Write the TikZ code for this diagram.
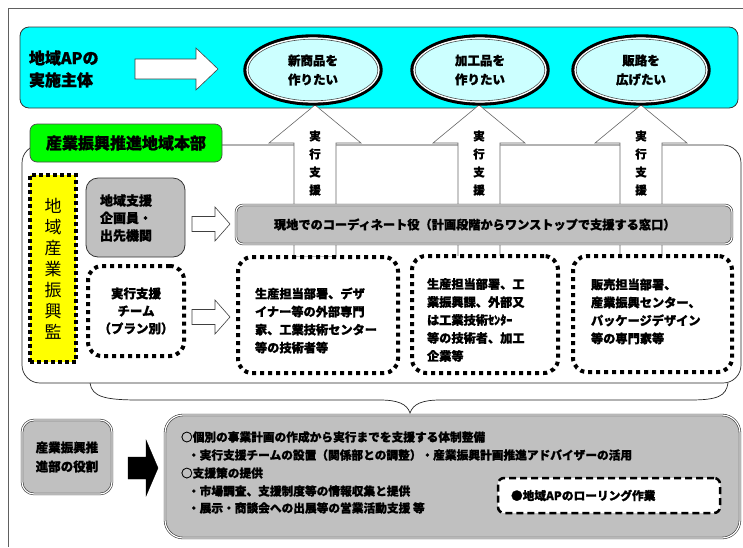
\documentclass[tikz,border=0pt]{standalone}
\usepackage{fontspec}
\setmainfont{Noto Sans CJK JP}[BoldFeatures={FakeBold=1.2}]
\usetikzlibrary{shapes.geometric,calc}
\definecolor{cyanbg}{HTML}{00FFFF}
\definecolor{lcyan}{HTML}{CCFFFF}
\definecolor{gbox}{HTML}{00FF00}
\definecolor{ybox}{HTML}{FFFF00}
\definecolor{grayf}{HTML}{C0C0C0}
\definecolor{framec}{HTML}{606060}
\newcommand{\jfs}[2]{\fontsize{#1}{#2}\selectfont}
\begin{document}
\begin{tikzpicture}[x=1pt,y=-1pt,
  every node/.style={inner sep=0pt, outer sep=0pt},
  cyanbox/.style={draw=black!80, line width=0.8pt, fill=cyanbg, rounded corners=9pt},
  ellout/.style={ellipse, draw=black, line width=3.4pt, fill=lcyan, minimum width=136pt, minimum height=68pt,
     font=\bfseries\jfs{12.5}{19}, align=center},
  ellwhite/.style={ellipse, draw=white, line width=1.6pt, minimum width=131.6pt, minimum height=63.6pt},
  ellin/.style={ellipse, draw=black!70, line width=0.6pt, minimum width=129.6pt, minimum height=61.6pt},
  blockarrow/.style={draw=black!75, line width=0.6pt, fill=white},
  uparrow/.style={draw=black!60, line width=0.6pt, fill=white},
  greenbox/.style={draw=black!70, line width=0.7pt, fill=gbox, rounded corners=7pt},
  regionframe/.style={draw=black!85, line width=0.7pt, rounded corners=18pt},
  graybox/.style={draw=black!80, line width=0.8pt, fill=grayf, rounded corners=12pt},
  dblgray/.style={draw=black!80, line width=0.6pt, double=white, double distance=1.2pt, fill=grayf},
  dotbox/.style={draw=black, line width=4pt, dash pattern=on 4pt off 4pt, fill=white, rounded corners=14pt},
  yelbox/.style={draw=black, line width=3.6pt, dash pattern=on 3.6pt off 3.4pt, fill=ybox},
  dashbox/.style={draw=black, line width=2.5pt, dash pattern=on 7pt off 4pt, fill=white, rounded corners=6pt},
  bt/.style={font=\bfseries\jfs{12.2}{18}, align=left},
  ct/.style={font=\bfseries\jfs{12.5}{17.5}, align=center},
  vt/.style={font=\bfseries\jfs{11.5}{18}, align=center},
  st/.style={font=\bfseries\jfs{11.7}{18}, align=left}
]
\useasboundingbox (0,0) rectangle (743,547);
% outer frame
\draw[framec, line width=0.8pt] (8,547) -- (8,8) -- (743,8);
% top cyan band
\node[cyanbox, minimum width=718pt, minimum height=81pt] (top) at (379,67.5) {};
\node[anchor=west, font=\bfseries\jfs{16}{22}, align=left] (apt) at (29,69) {地域APの\\実施主体};
\coordinate (wa1) at (135,69);
\coordinate (wa2) at (218,69);
\draw[blockarrow] ($(wa1)+(0,-10)$) -- ($(wa2)+(-22,-10)$) -- ($(wa2)+(-22,-21)$) -- (wa2)
  -- ($(wa2)+(-22,21)$) -- ($(wa2)+(-22,10)$) -- ($(wa1)+(0,10)$) -- cycle;
% region frame
\node[regionframe, minimum width=719pt, minimum height=238pt] (region) at (381.5,264) {};
\node[greenbox, minimum width=192pt, minimum height=38pt, font=\bfseries\jfs{16}{20}] (hq) at (126,143) {産業振興推進地域本部};
% up arrows
\foreach \cx/\n in {315/a,479/b,641/c}{
  \draw[uparrow] (\cx,105) -- (\cx+46,143) -- (\cx+21,143) -- (\cx+21,257) -- (\cx-21,257) -- (\cx-21,143) -- (\cx-46,143) -- cycle;
  \node[vt] (up\n) at (\cx,163) {実\\行\\支\\援};
}
% ellipses
\node[ellout] (e1) at (313,70) {新商品を\\作りたい};
\node[ellout] (e2) at (480,70) {加工品を\\作りたい};
\node[ellout] (e3) at (641,70) {販路を\\広げたい};
\foreach \e in {e1,e2,e3}{
  \node[ellwhite] at (\e) {};
  \node[ellin] at (\e) {};
}
% coordinator bar
\node[dblgray, rounded corners=7pt, minimum width=496pt, minimum height=39pt] (bar) at (484,224.5) {};
\node[bt, anchor=west] (bartxt) at (274,224.5) {現地でのコーディネート役（計画段階からワンストップで支援する窓口）};
% yellow box
\node[yelbox, minimum width=46pt, minimum height=187pt, font=\jfs{17}{21}, align=center] (kan) at (53,268.5) {地\\域\\産\\業\\振\\興\\監};
% left boxes
\node[graybox, minimum width=99pt, minimum height=79pt] (kikaku) at (135.5,217.5) {};
\node[anchor=west, font=\bfseries\jfs{13}{17.5}, align=left] (kikakut) at (100,218) {地域支援\\企画員・\\出先機関};
\node[dotbox, minimum width=96pt, minimum height=90pt, ct] (team) at (136,311) {実行支援\\チーム\\（プラン別）};
% small arrows
\foreach \yy/\n in {224/p,317/q}{
  \coordinate (s\n1) at (192,\yy);
  \coordinate (s\n2) at (230,\yy);
  \draw[blockarrow] ($(s\n1)+(0,-7.5)$) -- ($(s\n2)+(-15,-7.5)$) -- ($(s\n2)+(-15,-17)$) -- (s\n2)
    -- ($(s\n2)+(-15,17)$) -- ($(s\n2)+(-15,7.5)$) -- ($(s\n1)+(0,7.5)$) -- cycle;
}
% lower dotted boxes
\node[dotbox, minimum width=160pt, minimum height=116pt] (d1) at (318,315) {};
\node[dotbox, minimum width=146pt, minimum height=117pt] (d2) at (485,314.5) {};
\node[dotbox, minimum width=159pt, minimum height=116pt] (d3) at (652.5,314) {};
\node[bt, anchor=west] (d1t) at (255,320.5) {生産担当部署、デザ\\イナー等の外部専門\\家、工業技術センター\\等の技術者等};
\node[bt, anchor=west] (d2t) at (427,320) {生産担当部署、工\\業振興課、外部又\\は工業技術ｾﾝﾀｰ\\等の技術者、加工\\企業等};
\node[bt, anchor=west] (d3t) at (591,311.5) {販売担当部署、\\産業振興センター、\\パッケージデザイン\\等の専門家等};
% brace
\coordinate (bl) at (90,383);
\coordinate (br) at (728,383);
\coordinate (bt) at (410,413);
\draw[black!85, line width=0.7pt] (bl) .. controls (92,397) and (105,400) .. (140,400) -- (380,400)
  .. controls (398,400) and (407,404) .. (bt) .. controls (413,404) and (422,400) .. (440,400) -- (690,400)
  .. controls (718,400) and (726,396) .. (br);
% bottom section
\node[dblgray, rounded corners=12pt, minimum width=90pt, minimum height=74pt, font=\bfseries\jfs{12.5}{19}, align=center] (role) at (67,457) {産業振興推\\進部の役割};
\coordinate (ba1) at (128,468);
\coordinate (ba2) at (158,468);
\draw[fill=black, draw=black] ($(ba1)+(0,-11)$) -- ($(ba2)+(-12,-11)$) -- ($(ba2)+(-12,-28)$) -- (ba2)
  -- ($(ba2)+(-12,28)$) -- ($(ba2)+(-12,11)$) -- ($(ba1)+(0,11)$) -- cycle;
\node[dblgray, rounded corners=18pt, minimum width=575pt, minimum height=123pt] (roles) at (452.5,476.5) {};
\node[st, anchor=west] (r1) at (181,437) {○個別の事業計画の作成から実行までを支援する体制整備};
\node[st, anchor=west] (r2) at (188,455) {・実行支援チームの設置（関係部との調整）・産業振興計画推進アドバイザーの活用};
\node[st, anchor=west] (r3) at (181,473) {○支援策の提供};
\node[st, anchor=west] (r4) at (188,491) {・市場調査、支援制度等の情報収集と提供};
\node[st, anchor=west] (r5) at (188,508) {・展示・商談会への出展等の営業活動支援 等};
\node[dashbox, minimum width=222pt, minimum height=35pt] (roll) at (609,495.5) {};
\node[st, anchor=west] (rollt) at (511,495.5) {●地域APのローリング作業};
\end{tikzpicture}
\end{document}
